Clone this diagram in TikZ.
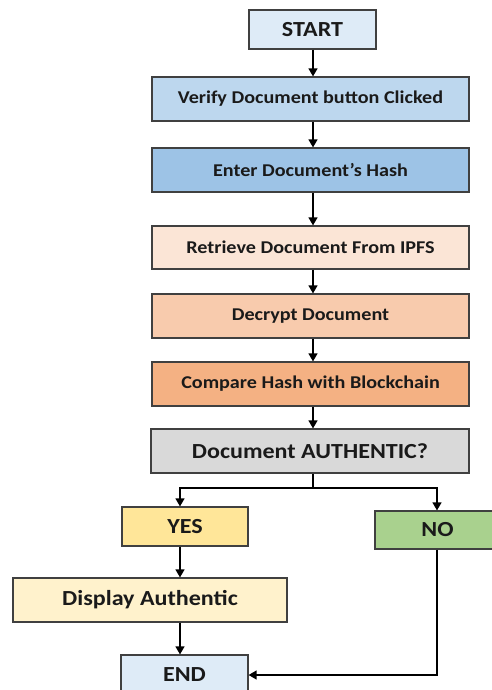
\documentclass[tikz,border=0pt]{standalone}
\usepackage{fontspec}
\setmainfont{Carlito}[FakeStretch=1.12]
\usetikzlibrary{arrows.meta}
\definecolor{cStart}{HTML}{DEEBF7}
\definecolor{cVerify}{HTML}{BDD7EE}
\definecolor{cEnter}{HTML}{9DC3E6}
\definecolor{cRetr}{HTML}{FBE5D6}
\definecolor{cDecr}{HTML}{F8CBAD}
\definecolor{cComp}{HTML}{F4B183}
\definecolor{cAuth}{HTML}{D9D9D9}
\definecolor{cYes}{HTML}{FFE699}
\definecolor{cNo}{HTML}{A9D18E}
\definecolor{cDisp}{HTML}{FFF2CC}
\definecolor{cBorder}{HTML}{404040}
\definecolor{cText}{HTML}{1A1A1A}
\tikzset{
  box/.style={draw=cBorder, line width=1.2pt, rectangle, inner sep=0pt,
    text=cText, font=\bfseries\fontsize{18}{20}\selectfont},
  bigbox/.style={box, font=\bfseries\fontsize{21.5}{24}\selectfont},
  flow/.style={draw=black, line width=1.3pt, -{Triangle[length=8pt,width=9pt]}},
}
\begin{document}
\begin{tikzpicture}[x=1pt,y=-1pt]
\useasboundingbox (0,0) rectangle (492,690);
\clip (0,0) rectangle (492,690);
\node[bigbox, fill=cStart, minimum width=127pt, minimum height=39pt] (start) at (312.5,29.5) {START};
\node[box, fill=cVerify, minimum width=317pt, minimum height=44pt] (verify) at (310.5,99) {Verify Document button Clicked};
\node[box, fill=cEnter, minimum width=317pt, minimum height=44pt] (enter) at (310.5,170) {Enter Document’s Hash};
\node[box, fill=cRetr, minimum width=317pt, minimum height=43pt] (retr) at (310.5,247.5) {Retrieve Document From IPFS};
\node[box, fill=cDecr, minimum width=317pt, minimum height=44pt] (decr) at (310.5,316) {Decrypt Document};
\node[box, fill=cComp, minimum width=317pt, minimum height=44pt] (comp) at (310.5,384) {Compare Hash with Blockchain};
\node[bigbox, fill=cAuth, minimum width=318pt, minimum height=44pt] (auth) at (310,451) {Document AUTHENTIC?};
\node[bigbox, fill=cYes, minimum width=126pt, minimum height=39pt] (yes) at (185,526.5) {YES};
\node[bigbox, fill=cNo, minimum width=125pt, minimum height=38pt] (no) at (437.5,530) {NO};
\node[bigbox, fill=cDisp, minimum width=274pt, minimum height=44pt] (disp) at (150,600) {Display Authentic};
\node[bigbox, fill=cStart, minimum width=127pt, minimum height=40pt] (end) at (184.5,675) {END};
\coordinate (cx) at (313,0);
\coordinate (lx) at (180,0);
\coordinate (rx) at (437,0);
\coordinate (split) at (313,488);
\coordinate (noturn) at (437,675);
\draw[flow] (start.south -| cx) -- (verify.north -| cx);
\draw[flow] (verify.south -| cx) -- (enter.north -| cx);
\draw[flow] (enter.south -| cx) -- (retr.north -| cx);
\draw[flow] (retr.south -| cx) -- (decr.north -| cx);
\draw[flow] (decr.south -| cx) -- (comp.north -| cx);
\draw[flow] (comp.south -| cx) -- (auth.north -| cx);
\draw[line width=1.3pt] (auth.south -| cx) -- (split);
\draw[flow] (split) -| (yes.north -| lx);
\draw[flow] (split) -| (no.north -| rx);
\draw[flow] (yes.south -| lx) -- (disp.north -| lx);
\draw[flow] (disp.south -| lx) -- (end.north -| lx);
\draw[flow] (no.south -| rx) -- (noturn) -- (end.east);
\end{tikzpicture}
\end{document}
